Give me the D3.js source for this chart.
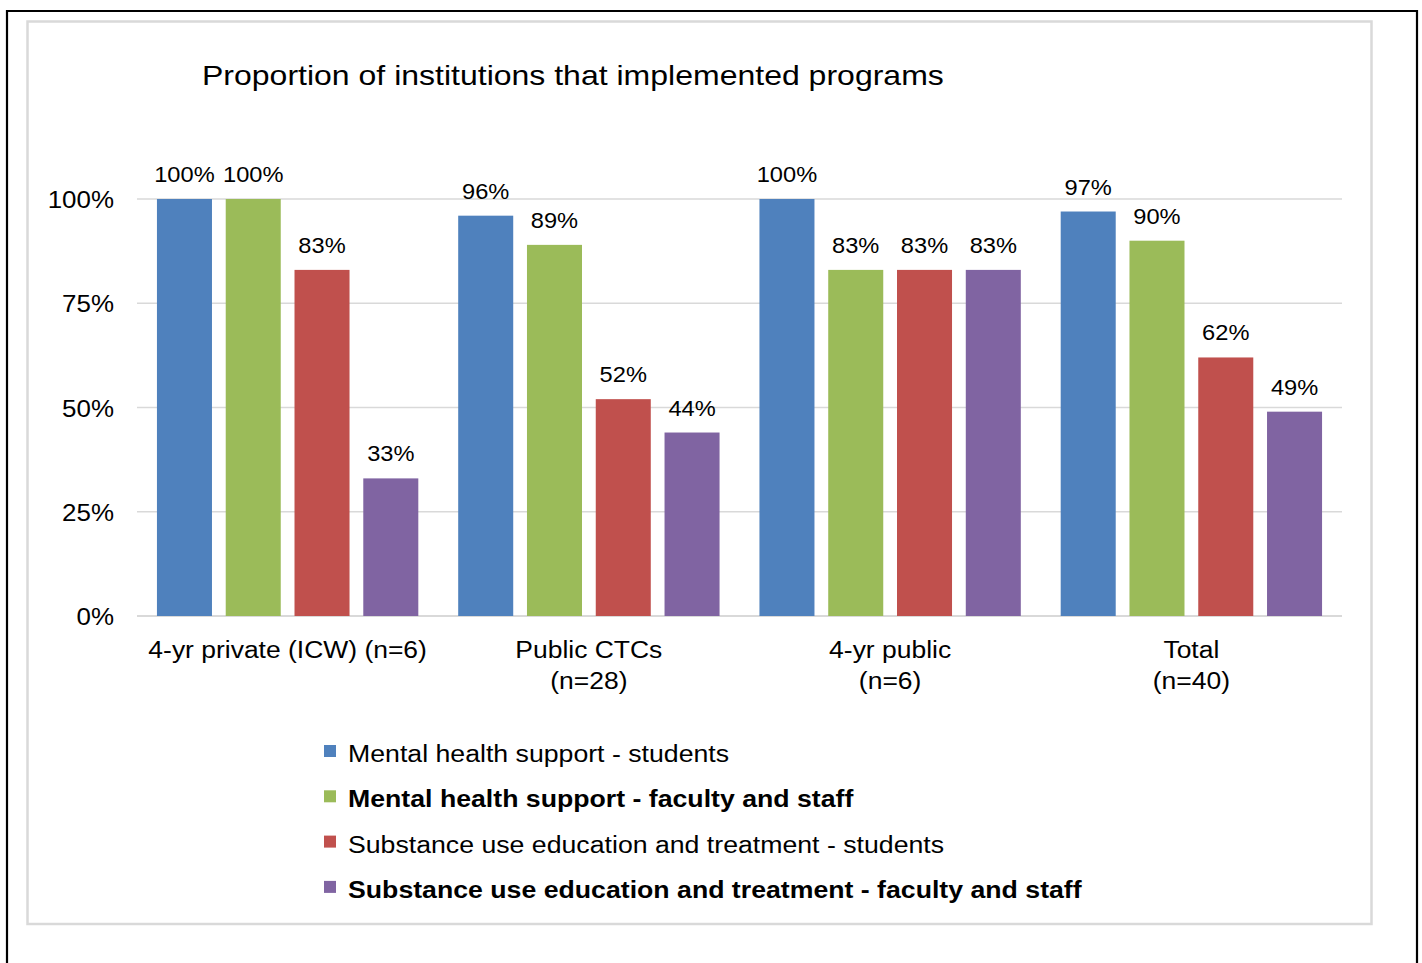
<!DOCTYPE html>
<html>
<head>
<meta charset="utf-8">
<script src="https://cdn.jsdelivr.net/npm/d3@7"></script>
<style>
  html, body { margin: 0; padding: 0; background: #fff; }
  svg { display: block; font-family: "Liberation Sans", Arial, sans-serif; }
</style>
</head>
<body>
<svg id="chart" width="1422" height="963"></svg>
<script>
// Institution groups (two-line labels where the original wraps)
const categories = ["4-yr private (ICW) (n=6)", "Public CTCs (n=28)", "4-yr public (n=6)", "Total (n=40)"];
const categoryLines = [["4-yr private (ICW) (n=6)"], ["Public CTCs", "(n=28)"], ["4-yr public", "(n=6)"], ["Total", "(n=40)"]];

const seriesNames = [
  "Mental health support - students",
  "Mental health support - faculty and staff",
  "Substance use education and treatment - students",
  "Substance use education and treatment - faculty and staff"
];
const seriesBold = [false, true, false, true];
const seriesColors = ["#4F81BD", "#9BBB59", "#C0504D", "#8064A2"];

// Percent of institutions, one array per series (order follows categories)
const mhStudents = [100, 96, 100, 97];
const mhStaff = [100, 89, 83, 90];
const suStudents = [83, 52, 83, 62];
const suStaff = [33, 44, 83, 49];
const seriesValues = [mhStudents, mhStaff, suStudents, suStaff];

const yTicks = [0, 25, 50, 75, 100];

const svg = d3.select("#chart");

// Widen rendered text horizontally by a factor (wide-set typeface look)
function widen(sel, factor) {
  sel.each(function () {
    const w = this.getComputedTextLength();
    d3.select(this).attr("textLength", w * factor).attr("lengthAdjust", "spacingAndGlyphs");
  });
}

// Page frame and chart border
svg.append("path")
  .attr("d", "M7,963 V11 H1417 V963")
  .attr("fill", "none").attr("stroke", "#000").attr("stroke-width", 2.2);
svg.append("rect")
  .attr("x", 27.5).attr("y", 21.5).attr("width", 1344).attr("height", 902.5)
  .attr("fill", "#fff").attr("stroke", "#d9d9d9").attr("stroke-width", 2.5);

// Title
const title = svg.append("text")
  .attr("x", 202).attr("y", 85)
  .attr("font-size", 28).attr("fill", "#000")
  .text("Proportion of institutions that implemented programs");
widen(title, 1.143);

const plotLeft = 137, plotRight = 1342, plotTop = 199, plotBottom = 616;

const x0 = d3.scaleBand().domain(categories).range([plotLeft, plotRight]).padding(0);
const x1 = d3.scaleBand().domain(d3.range(seriesNames.length))
  .range([0, x0.bandwidth()]).paddingInner(0.2).paddingOuter(0.29);
const y = d3.scaleLinear().domain([0, 100]).range([plotBottom, plotTop]);

// Gridlines
svg.append("g").selectAll("line").data(yTicks).join("line")
  .attr("x1", plotLeft).attr("x2", plotRight)
  .attr("y1", d => y(d)).attr("y2", d => y(d))
  .attr("stroke", "#d9d9d9").attr("stroke-width", d => d === 0 ? 2 : 1.6);

// Y axis labels
const yAxis = d3.axisLeft(y).tickValues(yTicks).tickFormat(d => d + "%").tickSize(0).tickPadding(0);
const yg = svg.append("g").attr("transform", "translate(114,0)").call(yAxis);
yg.select(".domain").remove();
yg.selectAll("text")
  .attr("font-size", 24).attr("fill", "#000")
  .attr("font-family", "Liberation Sans, Arial, sans-serif")
  .attr("dy", "0.36em");
widen(yg.selectAll("text"), 1.08);

// Bars and value labels
const rows = [];
categories.forEach((c, ci) => {
  seriesValues.forEach((vals, si) => rows.push({ c, si, v: vals[ci] }));
});

const groups = svg.append("g");
groups.selectAll("rect").data(rows).join("rect")
  .attr("x", d => x0(d.c) + x1(d.si))
  .attr("width", x1.bandwidth())
  .attr("y", d => y(d.v))
  .attr("height", d => y(0) - y(d.v))
  .attr("fill", d => seriesColors[d.si]);

const valueLabels = groups.selectAll("text").data(rows).join("text")
  .attr("x", d => x0(d.c) + x1(d.si) + x1.bandwidth() / 2)
  .attr("y", d => y(d.v) - 17)
  .attr("text-anchor", "middle")
  .attr("font-size", 22.5).attr("fill", "#000")
  .text(d => d.v + "%");
widen(valueLabels, 1.05);

// Category labels
const catG = svg.append("g");
categories.forEach((c, ci) => {
  const t = catG.append("text")
    .attr("x", x0(c) + x0.bandwidth() / 2)
    .attr("y", 658)
    .attr("text-anchor", "middle")
    .attr("font-size", 23).attr("fill", "#000");
  categoryLines[ci].forEach((line, li) => {
    t.append("tspan")
      .attr("x", x0(c) + x0.bandwidth() / 2)
      .attr("dy", li === 0 ? 0 : 31)
      .text(line);
  });
});
widen(catG.selectAll("tspan"), 1.15);

// Legend
const legend = svg.append("g");
seriesNames.forEach((name, i) => {
  const by = 762 + i * 45.3;
  legend.append("rect")
    .attr("x", 324).attr("y", by - 17).attr("width", 12).attr("height", 12)
    .attr("fill", seriesColors[i]);
  const t = legend.append("text")
    .attr("x", 348).attr("y", by)
    .attr("font-size", 23.5)
    .attr("font-weight", seriesBold[i] ? "bold" : "normal")
    .attr("fill", "#000")
    .text(name);
  widen(t, 1.135);
});
</script>
</body>
</html>
